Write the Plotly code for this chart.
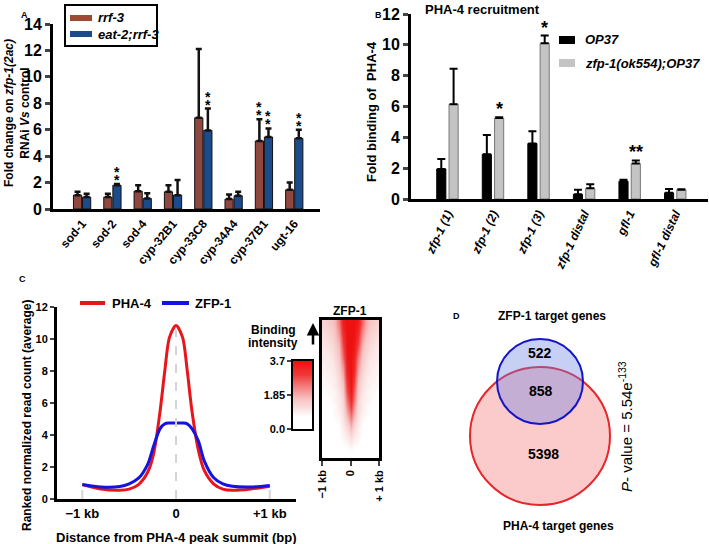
import plotly.graph_objects as go

W, H = 709, 544
FONT = "Liberation Sans, Arial, sans-serif"


def px(x):
    return x / W


def py(y):
    return 1 - y / H


def dom_x(a, b):
    return [a / W, b / W]


def dom_y(top, bottom):
    return [1 - bottom / H, 1 - top / H]


# ---------------- Panel A data ----------------
a_genes = ["sod-1", "sod-2", "sod-4", "cyp-32B1", "cyp-33C8", "cyp-34A4", "cyp-37B1", "ugt-16"]
a_rrf3 = [1.05, 0.9, 1.35, 1.3, 6.9, 0.75, 5.15, 1.45]
a_rrf3_err = [0.25, 0.25, 0.45, 0.5, 5.2, 0.35, 1.65, 0.55]
a_eat2 = [0.9, 1.8, 0.8, 1.05, 5.95, 1.0, 5.45, 5.35]
a_eat2_err = [0.25, 0.1, 0.4, 1.15, 1.65, 0.3, 0.65, 0.65]
a_stars_rrf3 = ["", "", "", "", "", "", "**", ""]
a_stars_eat2 = ["", "**", "", "", "**", "", "**", "**"]
a_yticks = [0, 2, 4, 6, 8, 10, 12, 14]

# ---------------- Panel B data ----------------
b_sites = ["zfp-1 (1)", "zfp-1 (2)", "zfp-1 (3)", "zfp-1 distal", "gfl-1", "gfl-1 distal"]
b_op37 = [1.95, 2.9, 3.6, 0.3, 1.15, 0.4]
b_op37_err = [0.65, 1.25, 0.8, 0.3, 0.1, 0.25]
b_zfp = [6.15, 5.25, 10.1, 0.7, 2.3, 0.6]
b_zfp_err = [2.3, 0.05, 0.5, 0.25, 0.2, 0.03]
b_stars = ["", "*", "*", "", "**", ""]
b_yticks = [0, 2, 4, 6, 8, 10, 12]

# ---------------- Panel C data ----------------
dist_kb = [-1, -0.8, -0.6, -0.5, -0.4, -0.3, -0.24, -0.17, -0.12, -0.07, 0,
           0.07, 0.12, 0.17, 0.24, 0.3, 0.4, 0.5, 0.6, 0.8, 1]
pha4 = [0.9, 0.62, 0.55, 0.62, 0.9, 1.7, 2.8, 5.5, 8.0, 10.1, 10.85,
        10.1, 8.0, 5.5, 3.0, 1.8, 0.95, 0.62, 0.54, 0.63, 0.8]
zfp1 = [0.9, 0.75, 0.78, 0.95, 1.3, 2.2, 3.3, 4.4, 4.7, 4.75, 4.75,
        4.75, 4.7, 4.4, 3.6, 2.4, 1.35, 0.95, 0.8, 0.75, 0.85]
c_yticks = [0, 2, 4, 6, 8, 10, 12]
c_xticks = [-1, 0, 1]
c_xticklabels = ["\u22121 kb", "0", "+1 kb"]

# ZFP-1 heatmap (rows ranked top->bottom, 15 bins from -1 kb to +1 kb)
heat = [
    [1.4, 1.5, 1.6, 1.8, 2.4, 3.5, 3.7, 3.7, 3.7, 3.5, 2.6, 1.9, 1.6, 1.5, 1.4],
    [1.3, 1.4, 1.5, 1.7, 2.2, 3.3, 3.7, 3.7, 3.7, 3.3, 2.3, 1.8, 1.5, 1.4, 1.3],
    [1.2, 1.3, 1.4, 1.6, 2.0, 3.1, 3.7, 3.7, 3.7, 3.1, 2.1, 1.6, 1.4, 1.3, 1.2],
    [1.1, 1.2, 1.3, 1.5, 1.8, 2.9, 3.7, 3.7, 3.6, 2.9, 1.9, 1.5, 1.3, 1.2, 1.1],
    [1.0, 1.1, 1.2, 1.4, 1.7, 2.7, 3.7, 3.7, 3.5, 2.6, 1.7, 1.4, 1.2, 1.1, 1.0],
    [1.0, 1.0, 1.1, 1.3, 1.6, 2.5, 3.6, 3.7, 3.4, 2.3, 1.6, 1.3, 1.1, 1.0, 1.0],
    [0.9, 1.0, 1.0, 1.2, 1.5, 2.2, 3.5, 3.7, 3.3, 2.1, 1.5, 1.2, 1.0, 1.0, 0.9],
    [0.9, 0.9, 1.0, 1.1, 1.4, 2.0, 3.4, 3.7, 3.2, 1.9, 1.4, 1.1, 1.0, 0.9, 0.9],
    [0.8, 0.9, 0.9, 1.0, 1.3, 1.8, 3.2, 3.7, 3.0, 1.7, 1.3, 1.0, 0.9, 0.9, 0.8],
    [0.8, 0.8, 0.9, 1.0, 1.2, 1.6, 3.0, 3.6, 2.8, 1.6, 1.2, 1.0, 0.9, 0.8, 0.8],
    [0.7, 0.8, 0.8, 0.9, 1.1, 1.5, 2.8, 3.5, 2.6, 1.5, 1.1, 0.9, 0.8, 0.8, 0.7],
    [0.7, 0.7, 0.8, 0.9, 1.0, 1.4, 2.5, 3.3, 2.4, 1.4, 1.0, 0.9, 0.8, 0.7, 0.7],
    [0.6, 0.7, 0.7, 0.8, 1.0, 1.3, 2.2, 3.0, 2.1, 1.3, 1.0, 0.8, 0.7, 0.7, 0.6],
    [0.6, 0.6, 0.7, 0.8, 0.9, 1.2, 1.9, 2.6, 1.9, 1.2, 0.9, 0.8, 0.7, 0.6, 0.6],
    [0.5, 0.6, 0.6, 0.7, 0.8, 1.1, 1.6, 2.2, 1.6, 1.1, 0.8, 0.7, 0.6, 0.6, 0.5],
    [0.5, 0.5, 0.6, 0.6, 0.7, 1.0, 1.3, 1.8, 1.3, 1.0, 0.7, 0.6, 0.6, 0.5, 0.5],
    [0.4, 0.5, 0.5, 0.6, 0.7, 0.9, 1.1, 1.4, 1.1, 0.9, 0.7, 0.6, 0.5, 0.5, 0.4],
    [0.4, 0.4, 0.5, 0.5, 0.6, 0.8, 0.9, 1.1, 0.9, 0.8, 0.6, 0.5, 0.5, 0.4, 0.4],
    [0.3, 0.4, 0.4, 0.5, 0.5, 0.6, 0.7, 0.8, 0.7, 0.6, 0.5, 0.5, 0.4, 0.4, 0.3],
    [0.3, 0.3, 0.4, 0.4, 0.5, 0.5, 0.6, 0.6, 0.6, 0.5, 0.5, 0.4, 0.4, 0.3, 0.3],
]
heat_ticklabels = ["\u22121 kb", "0", "+ 1 kb"]
cb_levels = [0.0, 0.37, 0.74, 1.11, 1.48, 1.85, 2.22, 2.59, 2.96, 3.33, 3.7]
cb_ticks = [0.0, 1.85, 3.7]
cb_ticklabels = ["0.0", "1.85", "3.7"]
heat_scale = [[0, "#ffffff"], [0.18, "#ffffff"], [0.45, "#f7c2c2"], [0.8, "#f03a3a"], [1, "#ee1111"]]

# ---------------- Panel D data ----------------
venn_zfp_only = 522
venn_overlap = 858
venn_pha_only = 5398

BROWN = "#8f4840"
BLUE = "#1c4b8c"

fig = go.Figure()

# ---- Panel A bars ----
a_x = list(range(len(a_genes)))
fig.add_trace(go.Bar(x=a_x, y=a_rrf3, width=0.27, offset=-0.285, marker=dict(color=BROWN, line=dict(color="#111", width=1)),
                     error_y=dict(type="data", array=a_rrf3_err, arrayminus=[0] * 8, symmetric=False, color="#111", thickness=2.5, width=3),
                     xaxis="x", yaxis="y", showlegend=False))
fig.add_trace(go.Bar(x=a_x, y=a_eat2, width=0.27, offset=0.015, marker=dict(color=BLUE, line=dict(color="#111", width=1)),
                     error_y=dict(type="data", array=a_eat2_err, arrayminus=[0] * 8, symmetric=False, color="#111", thickness=2.5, width=3),
                     xaxis="x", yaxis="y", showlegend=False))

# ---- Panel B bars ----
b_x = list(range(len(b_sites)))
fig.add_trace(go.Bar(x=b_x, y=b_op37, width=0.2, offset=-0.235, marker=dict(color="#000", line=dict(color="#000", width=1)),
                     error_y=dict(type="data", array=b_op37_err, arrayminus=[0] * 6, symmetric=False, color="#000", thickness=2, width=4),
                     xaxis="x2", yaxis="y2", showlegend=False))
fig.add_trace(go.Bar(x=b_x, y=b_zfp, width=0.2, offset=0.035, marker=dict(color="#c4c4c4", line=dict(color="#777", width=1)),
                     error_y=dict(type="data", array=b_zfp_err, arrayminus=[0] * 6, symmetric=False, color="#000", thickness=2, width=4),
                     xaxis="x2", yaxis="y2", showlegend=False))

# ---- Panel C lines ----
fig.add_trace(go.Scatter(x=dist_kb, y=pha4, mode="lines", line=dict(color="#e8161b", width=3, shape="spline", smoothing=0.8),
                         xaxis="x3", yaxis="y3", showlegend=False))
fig.add_trace(go.Scatter(x=dist_kb, y=zfp1, mode="lines", line=dict(color="#1414e0", width=3, shape="spline", smoothing=0.8),
                         xaxis="x3", yaxis="y3", showlegend=False))

# ---- heatmap ----
fig.add_trace(go.Heatmap(z=heat, x=list(range(15)), y=list(range(len(heat))), colorscale=heat_scale, zmin=0, zmax=3.7,
                         showscale=False, zsmooth="best", xaxis="x4", yaxis="y4"))
fig.add_trace(go.Heatmap(z=[[v] for v in cb_levels], x=[0], y=cb_levels, colorscale=heat_scale, zmin=0, zmax=3.7,
                         showscale=False, zsmooth="best", xaxis="x5", yaxis="y5"))

bold = dict(family=FONT, color="#000", weight="bold")

layout = dict(
    template="none",
    width=W, height=H, margin=dict(l=0, r=0, t=0, b=0, pad=0, autoexpand=False),
    paper_bgcolor="white", plot_bgcolor="rgba(0,0,0,0)",
    barmode="overlay", font=dict(family=FONT, color="#000"),
    # Panel A
    xaxis=dict(domain=dom_x(53, 320), anchor="y", range=[-0.96, 7.85], showline=True, linewidth=3, linecolor="#000",
               tickmode="array", tickvals=a_x, ticktext=a_genes, tickangle=-50, ticks="", showgrid=False, zeroline=False,
               tickfont=dict(size=12, **bold), automargin=False),
    yaxis=dict(domain=dom_y(24, 209), anchor="x", range=[0, 14], showline=True, linewidth=3, linecolor="#000",
               tickvals=a_yticks, ticks="outside", ticklen=5, tickwidth=2.5, showgrid=False, zeroline=False,
               tickfont=dict(size=16, **bold), automargin=False),
    # Panel B
    xaxis2=dict(domain=dom_x(411, 708), anchor="y2", range=[-0.8, 5.72], showline=True, linewidth=3, linecolor="#000",
                tickmode="array", tickvals=b_x, ticktext=["<i>%s</i>" % s for s in b_sites], tickangle=-65, ticks="",
                showgrid=False, zeroline=False, tickfont=dict(size=12, **bold), automargin=False),
    yaxis2=dict(domain=dom_y(14, 199), anchor="x2", range=[0, 12], showline=True, linewidth=3, linecolor="#000",
                tickvals=b_yticks, ticks="outside", ticklen=5, tickwidth=2.5, showgrid=False, zeroline=False,
                tickfont=dict(size=16, **bold), automargin=False),
    # Panel C
    xaxis3=dict(domain=dom_x(57, 296), anchor="y3", range=[-1.27, 1.28], showline=True, linewidth=3, linecolor="#000",
                tickmode="array", tickvals=c_xticks, ticktext=c_xticklabels, ticks="", showgrid=False, zeroline=False,
                tickfont=dict(size=13, **bold), automargin=False),
    yaxis3=dict(domain=dom_y(307, 499), anchor="x3", range=[0, 12], showline=True, linewidth=3, linecolor="#000",
                tickvals=c_yticks, ticks="outside", ticklen=4, tickwidth=2, showgrid=False, zeroline=False,
                tickfont=dict(size=11, **bold), automargin=False),
    # heatmap
    xaxis4=dict(domain=dom_x(322, 379), anchor="y4", range=[-0.5, 14.5], showline=True, mirror=True, linewidth=2.5, linecolor="#000",
                tickmode="array", tickvals=[-0.5, 7, 14.5], ticktext=heat_ticklabels, tickangle=-90, ticks="outside", ticklen=5,
                tickwidth=2, showgrid=False, zeroline=False, tickfont=dict(size=11, **bold), automargin=False),
    yaxis4=dict(domain=dom_y(320, 458), anchor="x4", range=[len(heat) - 0.5, -0.5], showline=True, mirror=True, linewidth=2.5,
                linecolor="#000", showticklabels=False, ticks="", showgrid=False, zeroline=False, automargin=False),
    # colorbar
    xaxis5=dict(domain=dom_x(293, 312), anchor="y5", range=[-0.5, 0.5], showline=True, mirror=True, linewidth=1.5, linecolor="#000",
                showticklabels=False, ticks="", showgrid=False, zeroline=False, automargin=False),
    yaxis5=dict(domain=dom_y(361, 429), anchor="x5", range=[0, 3.7], showline=True, mirror=True, linewidth=1.5, linecolor="#000",
                tickmode="array", tickvals=cb_ticks, ticktext=cb_ticklabels, ticks="outside", ticklen=4, tickwidth=2,
                showgrid=False, zeroline=False, tickfont=dict(size=11, **bold), automargin=False),
)

ann = []
shapes = []


def text(x, y, t, size=12, xanchor="center", yanchor="middle", angle=0, weight="bold", color="#000"):
    ann.append(dict(x=px(x), y=py(y), xref="paper", yref="paper", text=t, showarrow=False, xanchor=xanchor,
                    yanchor=yanchor, textangle=angle, font=dict(family=FONT, size=size, color=color, weight=weight)))


# Panel letters
text(24, 15, "A", size=9)
text(379, 15, "B", size=9)
text(22, 279, "C", size=9)
text(456, 316, "D", size=9)

# Panel A y title
text(17, 113, "Fold change on <i>zfp-1(2ac)</i><br>RNAi <i>Vs</i> control", size=12, angle=-90)

# Panel A legend
shapes.append(dict(type="rect", xref="paper", yref="paper", x0=px(65), x1=px(157), y0=py(46), y1=py(5),
                   line=dict(color="#000", width=2), fillcolor="white"))
shapes.append(dict(type="rect", xref="paper", yref="paper", x0=px(70), x1=px(92), y0=py(21), y1=py(15),
                   line=dict(width=0), fillcolor="#9c4a30"))
shapes.append(dict(type="rect", xref="paper", yref="paper", x0=px(70), x1=px(92), y0=py(37), y1=py(31),
                   line=dict(width=0), fillcolor=BLUE))
text(96, 18, "<i>rrf-3</i>", size=13, xanchor="left")
text(96, 34, "<i>eat-2;rrf-3</i>", size=13, xanchor="left")

# Panel A stars
for i in range(len(a_genes)):
    if a_stars_rrf3[i]:
        for k in range(2):
            ann.append(dict(x=i - 0.15, y=a_rrf3[i] + a_rrf3_err[i], xref="x", yref="y", text="*", showarrow=False,
                            yanchor="bottom", yshift=-6 + 8 * k, font=dict(family=FONT, size=14, weight="bold")))
    if a_stars_eat2[i]:
        for k in range(2):
            ann.append(dict(x=i + 0.15, y=a_eat2[i] + a_eat2_err[i], xref="x", yref="y", text="*", showarrow=False,
                            yanchor="bottom", yshift=-6 + 8 * k, font=dict(family=FONT, size=14, weight="bold")))

# Panel B title, y title, legend, stars
text(482, 9, "PHA-4 recruitment", size=13)
text(372, 112, "Fold binding of  PHA-4", size=13, angle=-90)
shapes.append(dict(type="rect", xref="paper", yref="paper", x0=px(559), x1=px(575), y0=py(44), y1=py(36),
                   line=dict(width=0), fillcolor="#000"))
shapes.append(dict(type="rect", xref="paper", yref="paper", x0=px(559), x1=px(575), y0=py(67), y1=py(59),
                   line=dict(width=0), fillcolor="#c4c4c4"))
text(583, 40, "<i>OP37</i>", size=13, xanchor="left")
text(583, 63, "<i>zfp-1(ok554);OP37</i>", size=13, xanchor="left")
for i in range(len(b_sites)):
    if b_stars[i]:
        ann.append(dict(x=i + 0.135, y=b_zfp[i] + b_zfp_err[i], xref="x2", yref="y2", text=b_stars[i], showarrow=False,
                        yanchor="bottom", yshift=-4, font=dict(family=FONT, size=18, weight="bold")))

# Panel C legend and titles
shapes.append(dict(type="line", xref="paper", yref="paper", x0=px(80), x1=px(105), y0=py(303), y1=py(303),
                   line=dict(color="#e8161b", width=4)))
shapes.append(dict(type="line", xref="paper", yref="paper", x0=px(162), x1=px(189), y0=py(303), y1=py(303),
                   line=dict(color="#1414e0", width=4)))
text(110, 303, "PHA-4", size=13, xanchor="left")
text(193, 303, "ZFP-1", size=13, xanchor="left")
text(27, 416, "Ranked normalized read count (average)", size=12, angle=-90)
text(176, 537, "Distance from PHA-4 peak summit (bp)", size=13)

# dashed guide lines in C
for xv, top in [(-1, 0.85), (0, 10.6), (1, 0.8)]:
    shapes.append(dict(type="line", xref="x3", yref="y3", x0=xv, x1=xv, y0=0, y1=top, layer="above",
                       line=dict(color="#d4d4d4", width=2, dash="dash")))

# heatmap title, colorbar label, arrow
text(350, 311, "ZFP-1", size=12)
text(273, 330, "Binding", size=12)
text(273, 343, "intensity", size=12)
ann.append(dict(x=px(313), y=py(323), xref="paper", yref="paper", ax=0, ay=23, axref="pixel", ayref="pixel",
                text="", showarrow=True, arrowhead=2, arrowsize=1, arrowwidth=2.5, arrowcolor="#000"))

# Panel D venn
shapes.append(dict(type="circle", xref="paper", yref="paper", x0=px(470), x1=px(610), y0=py(505), y1=py(367),
                   line=dict(color="#e6262b", width=2), fillcolor="#fbcaca"))
shapes.append(dict(type="circle", xref="paper", yref="paper", x0=px(497), x1=px(583), y0=py(424), y1=py(339),
                   line=dict(color="#1515c8", width=2), fillcolor="rgba(110,130,230,0.38)"))
text(552, 316, "ZFP-1 target genes", size=12)
text(558, 526, "PHA-4 target genes", size=12)
text(540, 353, str(venn_zfp_only), size=14)
text(541, 391, str(venn_overlap), size=14)
text(543, 454, str(venn_pha_only), size=14)
text(625, 427, "<i>P</i>- value = 5.54e<sup>-133</sup>", size=15, angle=-90, weight="normal")

layout["annotations"] = ann
layout["shapes"] = shapes
fig.update_layout(**layout)
fig.write_html("out.html", config={"displayModeBar": False},
               post_script="document.body.style.margin='0px';document.body.style.overflow='hidden';")
